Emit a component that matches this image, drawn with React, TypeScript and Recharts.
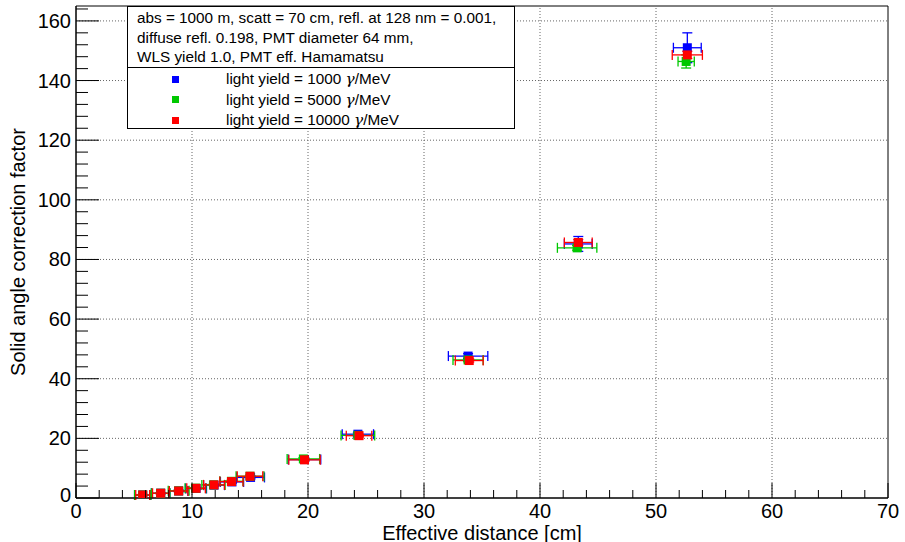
import React from "react";
import {
  ScatterChart,
  Scatter,
  XAxis,
  YAxis,
  ErrorBar,
  ReferenceLine,
  ReferenceArea,
} from "recharts";

// light yield = 1000 gamma/MeV
const blueX = [5.75, 7.3, 8.85, 10.35, 11.9, 13.45, 15.05, 19.7, 24.3, 33.8, 43.3, 52.7];
const blueY = [1.0, 1.6, 2.35, 3.2, 4.3, 5.4, 6.9, 12.9, 21.4, 47.6, 85.2, 151.0];
const blueEx = [0.7, 0.8, 0.8, 0.9, 0.9, 1.0, 1.2, 1.4, 1.35, 1.7, 1.2, 1.2];
const blueEy = [0.2, 0.2, 0.3, 0.3, 0.3, 0.4, 0.5, 0.5, 0.6, 0.8, 2.5, 5.0];

// light yield = 5000 gamma/MeV
const greenX = [5.75, 7.3, 8.85, 10.3, 11.85, 13.4, 15.0, 19.6, 24.3, 33.8, 43.2, 52.6];
const greenY = [1.0, 1.6, 2.4, 3.3, 4.4, 5.6, 7.3, 13.1, 21.0, 46.3, 83.9, 146.4];
const greenEx = [0.7, 0.8, 0.9, 0.9, 1.0, 1.0, 1.2, 1.4, 1.45, 1.3, 1.7, 0.7];
const greenEy = [0.1, 0.1, 0.2, 0.2, 0.2, 0.3, 0.3, 0.4, 0.5, 0.6, 0.8, 2.2];

// light yield = 10000 gamma/MeV
const redX = [5.75, 7.3, 8.85, 10.35, 11.9, 13.4, 15.0, 19.7, 24.4, 33.9, 43.3, 52.7];
const redY = [1.0, 1.6, 2.35, 3.25, 4.4, 5.5, 7.3, 12.8, 20.9, 46.1, 85.7, 148.6];
const redEx = [0.6, 0.7, 0.8, 0.8, 0.9, 1.0, 1.1, 1.35, 1.1, 1.2, 1.2, 1.3];
const redEy = [0.1, 0.1, 0.1, 0.2, 0.2, 0.2, 0.3, 0.3, 0.4, 0.5, 1.0, 1.2];

const xTicks = [0, 2, 4, 6, 8, 10, 12, 14, 16, 18, 20, 22, 24, 26, 28, 30, 32, 34, 36, 38, 40, 42, 44, 46, 48, 50, 52, 54, 56, 58, 60, 62, 64, 66, 68, 70];
const yTicks = [0, 4, 8, 12, 16, 20, 24, 28, 32, 36, 40, 44, 48, 52, 56, 60, 64, 68, 72, 76, 80, 84, 88, 92, 96, 100, 104, 108, 112, 116, 120, 124, 128, 132, 136, 140, 144, 148, 152, 156, 160, 164];
const xGrid = [10, 20, 30, 40, 50, 60];
const yGrid = [20, 40, 60, 80, 100, 120, 140, 160];

const headerLines = [
  "abs = 1000 m, scatt = 70 cm, refl. at 128 nm = 0.001,",
  "diffuse refl. 0.198, PMT diameter 64 mm,",
  "WLS yield 1.0, PMT eff. Hamamatsu",
];

const BLUE = "#0000ff";
const GREEN = "#00c800";
const RED = "#ff0000";

const series = [
  { name: "light yield = 1000 ", color: BLUE, xs: blueX, ys: blueY, ex: blueEx, ey: blueEy },
  { name: "light yield = 5000 ", color: GREEN, xs: greenX, ys: greenY, ex: greenEx, ey: greenEy },
  { name: "light yield = 10000 ", color: RED, xs: redX, ys: redY, ex: redEx, ey: redEy },
];

const FONT = "'Liberation Sans', Arial, Helvetica, sans-serif";

const XTick = (props: any) => {
  const { x, y, payload } = props;
  const major = payload.value % 10 === 0;
  return (
    <g>
      <line x1={x} x2={x} y1={y} y2={y - (major ? 15 : 8)} stroke="#000" />
      {major && (
        <text x={x} y={y + 20} textAnchor="middle" fontSize={20} fontFamily={FONT} fill="#000">
          {payload.value}
        </text>
      )}
    </g>
  );
};

const YTick = (props: any) => {
  const { x, y, payload } = props;
  const major = payload.value % 20 === 0;
  return (
    <g>
      <line x1={x} x2={x + (major ? 23 : 12)} y1={y} y2={y} stroke="#000" />
      {major && (
        <text x={x - 5} y={payload.value === 0 ? y + 4 : y + 7} textAnchor="end" fontSize={20} fontFamily={FONT} fill="#000">
          {payload.value}
        </text>
      )}
    </g>
  );
};

const makeSquare = (color: string) => (props: any) => (
  <rect x={props.cx - 4.5} y={props.cy - 4.5} width={9} height={9} fill={color} />
);

export default function App() {
  return (
    <div style={{ position: "fixed", left: 0, top: 0, width: 905, height: 542, background: "#fff", fontFamily: FONT }}>
      <ScatterChart width={905} height={542} margin={{ top: 6, right: 17, bottom: 0, left: 0 }}>
        <XAxis
          type="number"
          dataKey="x"
          domain={[0, 70]}
          ticks={xTicks}
          interval={0}
          tick={<XTick />}
          tickLine={false}
          tickSize={0}
          tickMargin={0}
          height={44}
          axisLine={{ stroke: "#000" }}
          allowDataOverflow
          label={{ value: "Effective distance [cm]", position: "insideBottom", offset: 2.5, fontSize: 20, fill: "#000", fontFamily: FONT }}
        />
        <YAxis
          type="number"
          dataKey="y"
          domain={[0, 165]}
          ticks={yTicks}
          interval={0}
          tick={<YTick />}
          tickLine={false}
          tickSize={0}
          tickMargin={0}
          width={76}
          axisLine={{ stroke: "#000" }}
          allowDataOverflow
          label={{ value: "Solid angle correction factor", angle: -90, position: "center", dx: -20, fontSize: 20, fill: "#000", fontFamily: FONT }}
        />
        {xGrid.map((v) => (
          <ReferenceLine key={"gx" + v} x={v} stroke="#666" strokeDasharray="1 2" />
        ))}
        {yGrid.map((v) => (
          <ReferenceLine key={"gy" + v} y={v} stroke="#666" strokeDasharray="1 2" />
        ))}
        <ReferenceArea x1={0} x2={70} y1={0} y2={165} fill="none" stroke="#000" strokeWidth={1} />
        {series.map((s) => (
          <Scatter
            key={s.name}
            name={s.name}
            data={s.xs.map((x, i) => ({ x, y: s.ys[i], ex: s.ex[i], ey: s.ey[i] }))}
            shape={makeSquare(s.color)}
            isAnimationActive={false}
          >
            <ErrorBar dataKey="ex" direction="x" width={5} stroke={s.color} strokeWidth={1.3} isAnimationActive={false} />
            <ErrorBar dataKey="ey" direction="y" width={5} stroke={s.color} strokeWidth={1.3} isAnimationActive={false} />
          </Scatter>
        ))}
      </ScatterChart>
      <div
        style={{
          position: "absolute",
          left: 127,
          top: 6,
          width: 388,
          height: 123,
          border: "1px solid #000",
          background: "#fff",
          fontSize: 15.3,
          color: "#000",
          boxSizing: "border-box",
        }}
      >
        <div style={{ height: 61, borderBottom: "1px solid #000", padding: "1px 0 0 9px", boxSizing: "border-box", lineHeight: "19.5px" }}>
          {headerLines.map((l) => (
            <div key={l}>{l}</div>
          ))}
        </div>
        <div style={{ paddingTop: 1 }}>
          {series.map((s) => (
            <div key={s.name} style={{ display: "flex", alignItems: "center", height: 20.5 }}>
              <div style={{ width: 7, height: 7, background: s.color, marginLeft: 44 }} />
              <div style={{ marginLeft: 47, whiteSpace: "pre" }}>
                {s.name}
                <span style={{ fontFamily: "'DejaVu Serif', 'Liberation Serif', serif", fontStyle: "italic" }}>{"\u03b3"}</span>
                /MeV
              </div>
            </div>
          ))}
        </div>
      </div>
    </div>
  );
}
